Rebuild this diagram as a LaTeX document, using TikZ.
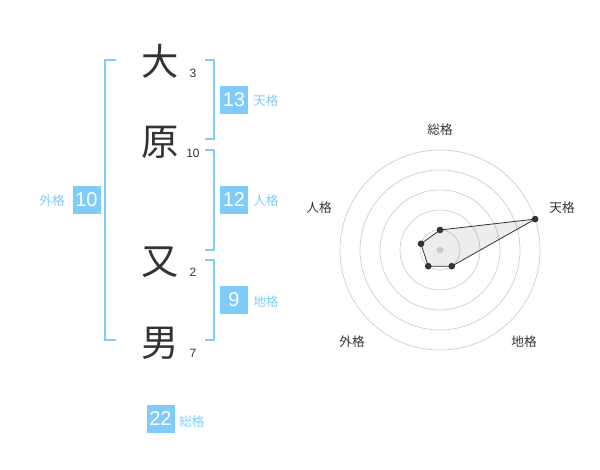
\documentclass[tikz,border=0pt]{standalone}
\usepackage{fontspec}
\setmainfont{Liberation Sans}
\newfontfamily\jp{Noto Sans CJK JP}
\definecolor{lblue}{HTML}{7FCCFA}
\definecolor{kanji}{HTML}{333333}
\definecolor{gridc}{HTML}{CCCCCC}
\begin{document}
\begin{tikzpicture}[x=0.75pt,y=-0.75pt,
  kj/.style={font=\jp\fontsize{28}{30}\selectfont, text=kanji, inner sep=0pt},
  stroke/.style={font=\fontsize{9}{10}\selectfont, text=kanji, inner sep=0pt},
  numbox/.style={fill=lblue, text=white, minimum size=21pt, inner sep=0pt, font=\fontsize{15}{16}\selectfont},
  kaku/.style={font=\jp\fontsize{9.5}{11}\selectfont, text=lblue, inner sep=0pt},
  brk/.style={draw=lblue, line width=1.3pt},
  rlab/.style={font=\jp\fontsize{9.5}{11}\selectfont, text=kanji, inner sep=0pt},
  ring/.style={draw=gridc, line width=0.5pt},
  dot/.style={circle, fill=kanji, inner sep=0pt, minimum size=5pt}]
\useasboundingbox (0,0) rectangle (600,470);
% kanji
\node[kj] (k1) at (160,61) {大};
\node[kj] (k2) at (160,142) {原};
\node[kj] (k3) at (160,262) {又};
\node[kj] (k4) at (160,343) {男};
\node[stroke] (s1) at (193,73) {3};
\node[stroke] (s2) at (193,153) {10};
\node[stroke] (s3) at (193,272) {2};
\node[stroke] (s4) at (193,353) {7};
% brackets
\coordinate (la) at (116,60); \coordinate (lb) at (116,340);
\draw[brk] (la) -- (105,60) -- (105,340) -- (lb);
\coordinate (t1) at (205,60); \coordinate (t2) at (205,139);
\draw[brk] (t1) -- (214,60) -- (214,139) -- (t2);
\coordinate (j1) at (205,150); \coordinate (j2) at (205,250);
\draw[brk] (j1) -- (214,150) -- (214,250) -- (j2);
\coordinate (c1) at (205,260); \coordinate (c2) at (205,340);
\draw[brk] (c1) -- (214,260) -- (214,340) -- (c2);
% boxes
\node[numbox] (ten) at (234,100) {13};
\node[kaku, anchor=west] (tenl) at (253,101) {天格};
\node[numbox] (jin) at (234,200) {12};
\node[kaku, anchor=west] (jinl) at (253,201) {人格};
\node[numbox] (chi) at (234,300) {9};
\node[kaku, anchor=west] (chil) at (253,302) {地格};
\node[numbox] (gai) at (86.5,200) {10};
\node[kaku, anchor=east] (gail) at (65,201) {外格};
\node[numbox] (sou) at (160.5,419) {22};
\node[kaku, anchor=west] (soul) at (179,422) {総格};
% radar
\coordinate (O) at (440,250);
\foreach \r in {20,40,60,80,100} \draw[ring] (O) circle[radius=\r];
\fill[gridc!70] (O) circle[radius=3.5];
\coordinate (p1) at (440,230);
\path (440,250) ++(95.1,-30.9) coordinate (p2);
\path (440,250) ++(11.76,16.18) coordinate (p3);
\path (440,250) ++(-11.76,16.18) coordinate (p4);
\path (440,250) ++(-19.02,-6.18) coordinate (p5);
\draw[kanji, line width=0.6pt, fill=black, fill opacity=0.07] (p1) -- (p2) -- (p3) -- (p4) -- (p5) -- cycle;
\foreach \p in {p1,p2,p3,p4,p5} \node[dot] at (\p) {};
\node[rlab] (rs) at (440,130) {総格};
\node[rlab] (rt) at (562,208) {天格};
\node[rlab] (rj) at (319,208) {人格};
\node[rlab] (rg) at (352,342) {外格};
\node[rlab] (rc) at (524,342) {地格};
\end{tikzpicture}
\end{document}
